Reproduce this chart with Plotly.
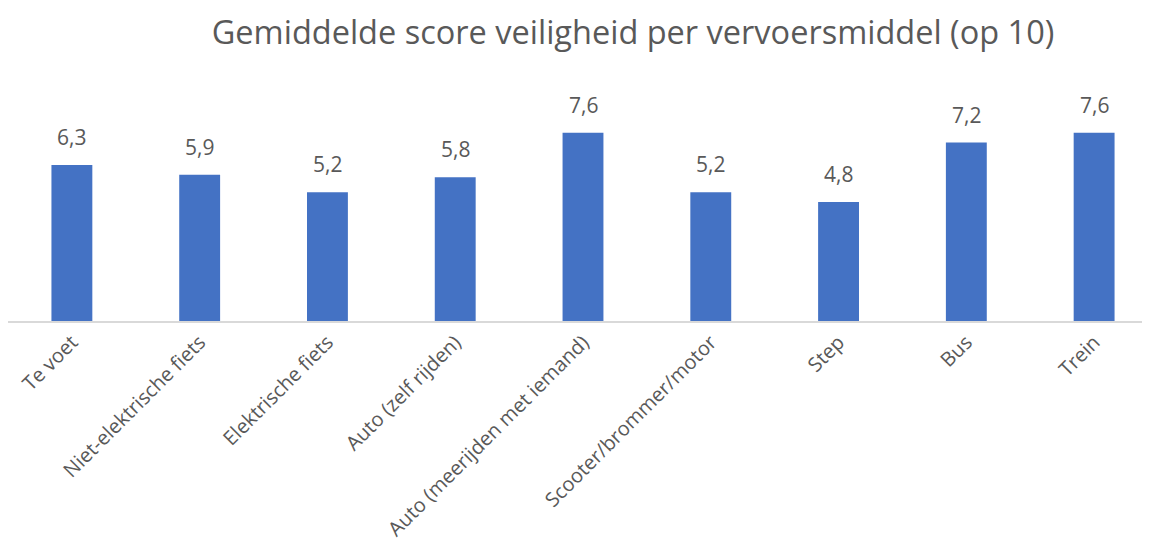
import plotly.graph_objects as go

categories = ["Te voet", "Niet-elektrische fiets", "Elektrische fiets", "Auto (zelf rijden)",
              "Auto (meerijden met iemand)", "Scooter/brommer/motor", "Step", "Bus", "Trein"]
scores = [6.3, 5.9, 5.2, 5.8, 7.6, 5.2, 4.8, 7.2, 7.6]
title_text = "Gemiddelde score veiligheid per vervoersmiddel (op 10)"

FONT = "Open Sans"
GREY = "#595959"

fig = go.Figure()
fig.add_trace(go.Bar(
    x=list(range(len(categories))),
    y=scores,
    marker=dict(color="#4472C4", line=dict(width=0)),
    hoverinfo="skip",
))

for i, v in enumerate(scores):
    fig.add_annotation(
        x=i, y=v, text=f"{v:.1f}".replace(".", ","),
        showarrow=False, yanchor="bottom", yshift=12,
        font=dict(family=FONT, size=21, color=GREY),
    )

fig.update_layout(
    width=1150, height=558,
    margin=dict(l=0, r=0, t=90, b=245, autoexpand=False),
    paper_bgcolor="white", plot_bgcolor="white",
    bargap=0.68,
    showlegend=False,
    title=dict(text=title_text, x=0.5435, xanchor="center", y=0.955, yanchor="middle",
               font=dict(family=FONT, size=32.5, color=GREY)),
    xaxis=dict(
        tickmode="array", tickvals=list(range(len(categories))), ticktext=categories,
        range=[-0.5, 8.5], tickangle=-45, automargin=False,
        tickfont=dict(family=FONT, size=20, color=GREY),
        showline=True, linecolor="#d9d9d9", linewidth=1.5,
        showgrid=False, zeroline=False, ticks="",
    ),
    yaxis=dict(range=[0, 9], visible=False, showgrid=False, zeroline=False, automargin=False),
)

fig.write_html("out.html")
